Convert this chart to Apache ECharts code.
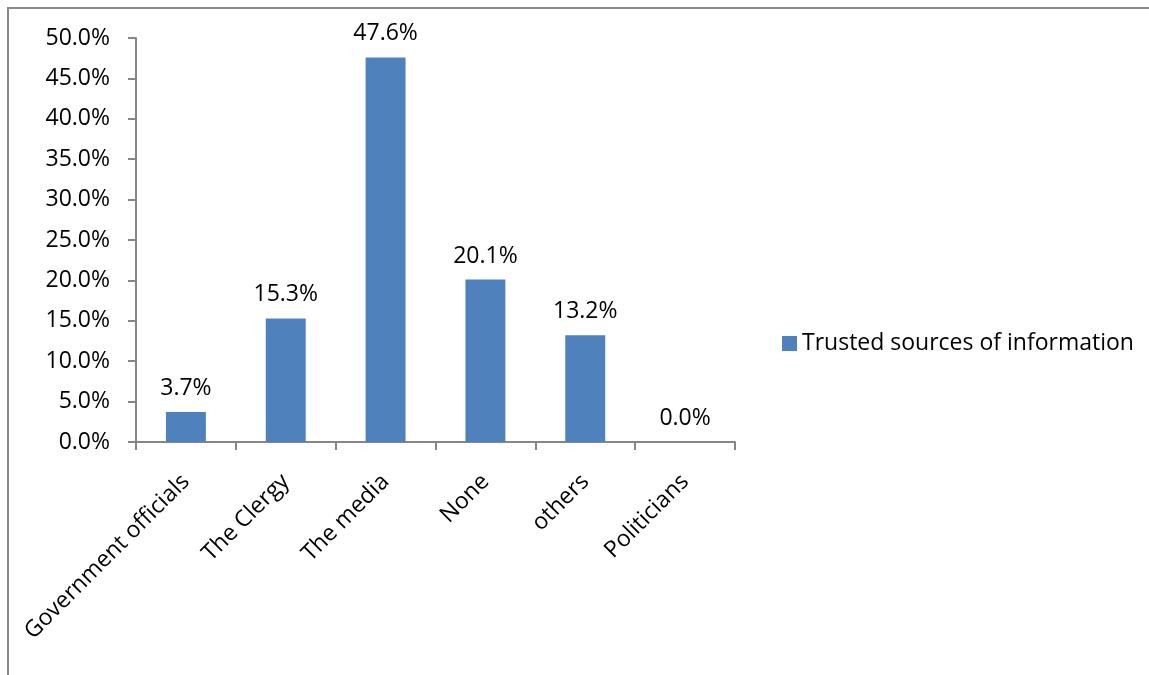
<!DOCTYPE html>
<html>
<head>
<meta charset="utf-8">
<script src="https://cdn.jsdelivr.net/npm/echarts@6/dist/echarts.min.js"></script>
<style>
html,body{margin:0;padding:0;background:#fff;}
#chart{width:1149px;height:675px;}
</style>
</head>
<body>
<div id="chart"></div>
<script>
// Survey shares by trusted source
const categories = ['Government officials', 'The Clergy', 'The media', 'None', 'others', 'Politicians'];
const shares = [3.7, 15.3, 47.6, 20.1, 13.2, 0.0];
const seriesName = 'Trusted sources of information';
const yTicks = { min: 0, max: 50, interval: 5 };

const FONT = 'Open Sans';
const FS = 23;
const chart = echarts.init(document.getElementById('chart'));
chart.setOption({
  animation: false,
  backgroundColor: '#fff',
  textStyle: { fontFamily: FONT },
  graphic: [{
    type: 'rect',
    shape: { x: 8, y: 8, width: 1200, height: 720 },
    style: { fill: 'none', stroke: '#898989', lineWidth: 2 },
    silent: true
  }],
  grid: { left: 136, right: 414, top: 38, bottom: 233, containLabel: false },
  legend: {
    orient: 'vertical',
    left: 777, top: 327,
    itemWidth: 15, itemHeight: 15, itemGap: 8,
    icon: 'rect',
    textStyle: { fontFamily: FONT, fontSize: FS, color: '#000', padding: [0, 0, 0, 0] },
    data: [seriesName]
  },
  xAxis: {
    type: 'category',
    data: categories,
    boundaryGap: true,
    axisLine: { lineStyle: { color: '#868686', width: 2 } },
    axisTick: { show: true, length: 8, alignWithLabel: false, lineStyle: { color: '#868686', width: 2 } },
    axisLabel: { interval: 0, rotate: 45, margin: 36, fontFamily: FONT, fontSize: FS, color: '#000' },
    splitLine: { show: false }
  },
  yAxis: {
    type: 'value',
    min: yTicks.min, max: yTicks.max, interval: yTicks.interval,
    axisLine: { show: true, lineStyle: { color: '#868686', width: 2 } },
    axisTick: { show: true, length: 8, lineStyle: { color: '#868686', width: 2 } },
    axisLabel: { margin: 26, fontFamily: FONT, fontSize: FS, color: '#000',
      formatter: v => v.toFixed(1) + '%' },
    splitLine: { show: false }
  },
  series: [{
    name: seriesName,
    type: 'bar',
    data: shares,
    barWidth: '40%',
    itemStyle: { color: '#4F81BD' },
    label: {
      show: true, position: 'top', distance: 12,
      fontFamily: FONT, fontSize: FS, color: '#000',
      formatter: p => p.value.toFixed(1) + '%'
    }
  }]
});
</script>
</body>
</html>
